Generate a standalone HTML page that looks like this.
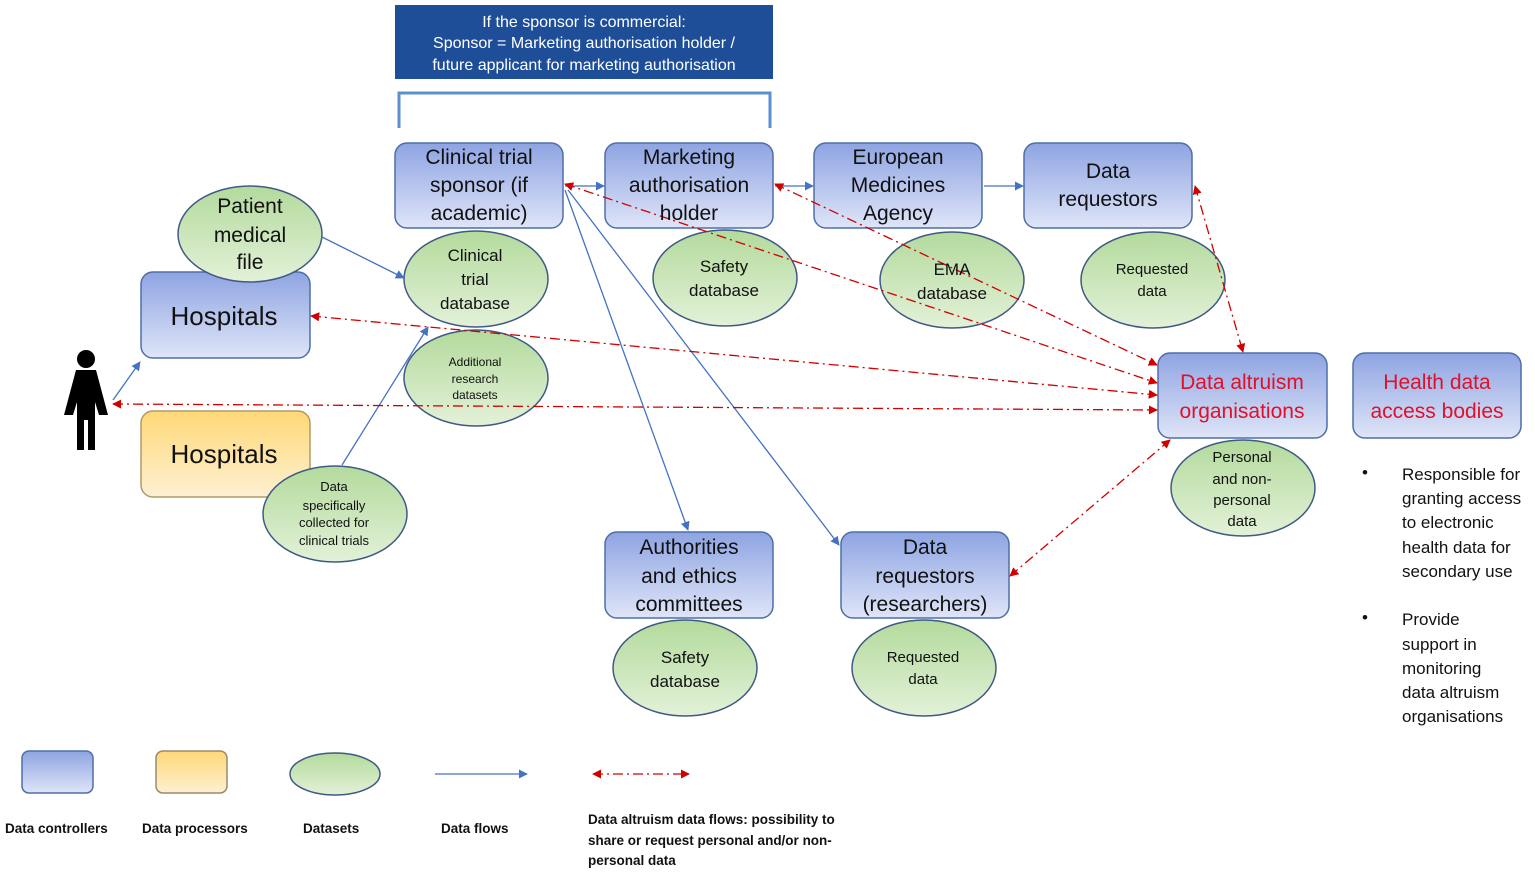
<!DOCTYPE html>
<html><head><meta charset="utf-8"><style>
html,body{margin:0;padding:0;background:#fff}
svg{display:block}
text{font-family:"Liberation Sans",sans-serif;fill:#111}
</style></head><body>
<svg width="1535" height="874" viewBox="0 0 1535 874" xmlns="http://www.w3.org/2000/svg">
<defs>
<linearGradient id="bl" x1="0" y1="0" x2="0" y2="1"><stop offset="0" stop-color="#8ea4e2"/><stop offset="1" stop-color="#dfe5f8"/></linearGradient>
<linearGradient id="ye" x1="0" y1="0" x2="0" y2="1"><stop offset="0" stop-color="#ffd876"/><stop offset="1" stop-color="#fdf0d2"/></linearGradient>
<linearGradient id="gr" x1="0" y1="0" x2="0" y2="1"><stop offset="0" stop-color="#b3da9c"/><stop offset="1" stop-color="#e3f1d8"/></linearGradient>
<marker id="ab" viewBox="0 0 10 10" refX="9" refY="5" markerWidth="7" markerHeight="7" orient="auto-start-reverse"><path d="M0,0L10,5L0,10z" fill="#4472c4"/></marker>
<marker id="ar" viewBox="0 0 10 10" refX="9" refY="5" markerWidth="7" markerHeight="7" orient="auto-start-reverse"><path d="M0,0L10,5L0,10z" fill="#d00000"/></marker>
</defs>
<g stroke="#4f6ea8" stroke-width="1.5">
<rect x="395" y="143" width="168" height="85" rx="12" fill="url(#bl)"/>
<rect x="605" y="143" width="168" height="85" rx="12" fill="url(#bl)"/>
<rect x="814" y="143" width="168" height="85" rx="12" fill="url(#bl)"/>
<rect x="1024" y="143" width="168" height="85" rx="12" fill="url(#bl)"/>
<rect x="141" y="272" width="169" height="86" rx="12" fill="url(#bl)"/>
<rect x="141" y="411" width="169" height="86" rx="12" fill="url(#ye)" stroke="#b09a6a"/>
<rect x="605" y="532" width="168" height="86" rx="12" fill="url(#bl)"/>
<rect x="841" y="532" width="168" height="86" rx="12" fill="url(#bl)"/>
<rect x="1158" y="353" width="169" height="85" rx="12" fill="url(#bl)"/>
<rect x="1353" y="353" width="168" height="85" rx="12" fill="url(#bl)"/>
<rect x="22" y="751" width="71" height="42" rx="7" fill="url(#bl)"/>
<rect x="156" y="751" width="71" height="42" rx="7" fill="url(#ye)" stroke="#9a8a6a"/>
</g>
<g stroke="#3f5a85" stroke-width="1.5" fill="url(#gr)">
<ellipse cx="250" cy="234" rx="72" ry="48"/>
<ellipse cx="476" cy="279" rx="72" ry="48"/>
<ellipse cx="476" cy="378" rx="72" ry="48"/>
<ellipse cx="725" cy="278" rx="72" ry="48"/>
<ellipse cx="952" cy="280" rx="72" ry="48"/>
<ellipse cx="1153" cy="280" rx="72" ry="48"/>
<ellipse cx="335" cy="514" rx="72" ry="48"/>
<ellipse cx="1243" cy="488" rx="72" ry="48"/>
<ellipse cx="685" cy="668" rx="72" ry="48"/>
<ellipse cx="924" cy="668" rx="72" ry="48"/>
<ellipse cx="335" cy="774" rx="45" ry="21"/>
</g>
<rect x="395" y="5" width="378" height="74" fill="#1f4e99"/>
<g font-size="16" text-anchor="middle"><text x="584" y="27" style="fill:#fff">If the sponsor is commercial:</text>
<text x="584" y="48" style="fill:#fff">Sponsor = Marketing authorisation holder /</text>
<text x="584" y="70" style="fill:#fff">future applicant for marketing authorisation</text></g>
<path d="M399,128V93H770V128" fill="none" stroke="#5b8fd0" stroke-width="3"/>
<!-- person -->
<g fill="#000"><circle cx="86" cy="359" r="9"/>
<path d="M76,370H96L108,415H99L95,402V450H88V420H84V450H77V402L73,415H64Z"/></g>
<g stroke="#4472c4" stroke-width="1.3" fill="none" marker-end="url(#ab)">
<line x1="113" y1="400" x2="140" y2="362"/>
<line x1="322" y1="237" x2="404" y2="278"/>
<line x1="342" y1="465" x2="428" y2="327"/>
<line x1="565" y1="186" x2="604" y2="186"/>
<line x1="775" y1="186" x2="813" y2="186"/>
<line x1="984" y1="186" x2="1023" y2="186"/>
<line x1="565" y1="190" x2="688" y2="530"/>
<line x1="568" y1="190" x2="839" y2="545"/>
<line x1="435" y1="774" x2="527" y2="774"/>
</g>
<g stroke="#d00000" stroke-width="1.3" fill="none" stroke-dasharray="10,4,2,4" marker-end="url(#ar)" marker-start="url(#ar)">
<line x1="311" y1="316" x2="1157" y2="395"/>
<line x1="113" y1="404" x2="1157" y2="410"/>
<line x1="565" y1="184" x2="1157" y2="383"/>
<line x1="775" y1="184" x2="1157" y2="365"/>
<line x1="1195" y1="186" x2="1243" y2="352"/>
<line x1="1010" y1="576" x2="1170" y2="440"/>
<line x1="593" y1="774" x2="689" y2="774"/>
</g>
<g font-size="21" text-anchor="middle">
<text x="479" y="164">Clinical trial</text><text x="479" y="192">sponsor (if</text><text x="479" y="220">academic)</text>
<text x="689" y="164">Marketing</text><text x="689" y="192">authorisation</text><text x="689" y="220">holder</text>
<text x="898" y="164">European</text><text x="898" y="192">Medicines</text><text x="898" y="220">Agency</text>
<text x="1108" y="178">Data</text><text x="1108" y="206">requestors</text>
<text x="689" y="554">Authorities</text><text x="689" y="583">and ethics</text><text x="689" y="611">committees</text>
<text x="925" y="554">Data</text><text x="925" y="583">requestors</text><text x="925" y="611">(researchers)</text>
<text x="250" y="213">Patient</text><text x="250" y="242">medical</text><text x="250" y="269">file</text>
<text x="1242" y="389" style="fill:#e0102a">Data altruism</text><text x="1242" y="418" style="fill:#e0102a">organisations</text>
<text x="1437" y="389" style="fill:#e0102a">Health data</text><text x="1437" y="418" style="fill:#e0102a">access bodies</text>
</g>
<g font-size="26" text-anchor="middle"><text x="224" y="325">Hospitals</text><text x="224" y="463">Hospitals</text></g>
<g font-size="17" text-anchor="middle">
<text x="475" y="261">Clinical</text><text x="475" y="285">trial</text><text x="475" y="309">database</text>
<text x="724" y="272">Safety</text><text x="724" y="296">database</text>
<text x="952" y="275">EMA</text><text x="952" y="299">database</text>
<text x="685" y="663">Safety</text><text x="685" y="687">database</text>
</g>
<g font-size="15" text-anchor="middle">
<text x="1152" y="274">Requested</text><text x="1152" y="296">data</text>
<text x="923" y="662">Requested</text><text x="923" y="684">data</text>
<text x="1242" y="462">Personal</text><text x="1242" y="484">and non-</text><text x="1242" y="505">personal</text><text x="1242" y="526">data</text>
</g>
<g font-size="12" text-anchor="middle">
<text x="475" y="366">Additional</text><text x="475" y="383">research</text><text x="475" y="399">datasets</text>
</g>
<g font-size="13" text-anchor="middle">
<text x="334" y="491">Data</text><text x="334" y="510">specifically</text><text x="334" y="527">collected for</text><text x="334" y="545">clinical trials</text>
</g>
<g font-size="17">
<text x="1362" y="478">•</text>
<text x="1402" y="480">Responsible for</text><text x="1402" y="504">granting access</text><text x="1402" y="528">to electronic</text><text x="1402" y="553">health data for</text><text x="1402" y="577">secondary use</text>
<text x="1362" y="623">•</text>
<text x="1402" y="625">Provide</text><text x="1402" y="650">support in</text><text x="1402" y="674">monitoring</text><text x="1402" y="698">data altruism</text><text x="1402" y="722">organisations</text>
</g>
<g font-size="13.5" font-weight="bold">
<text x="5" y="833">Data controllers</text><text x="142" y="833">Data processors</text>
<text x="303" y="833">Datasets</text><text x="441" y="833">Data flows</text>
<text x="588" y="824">Data altruism data flows: possibility to</text>
<text x="588" y="845">share or request personal and/or non-</text>
<text x="588" y="865">personal data</text>
</g>
</svg>
</body></html>
